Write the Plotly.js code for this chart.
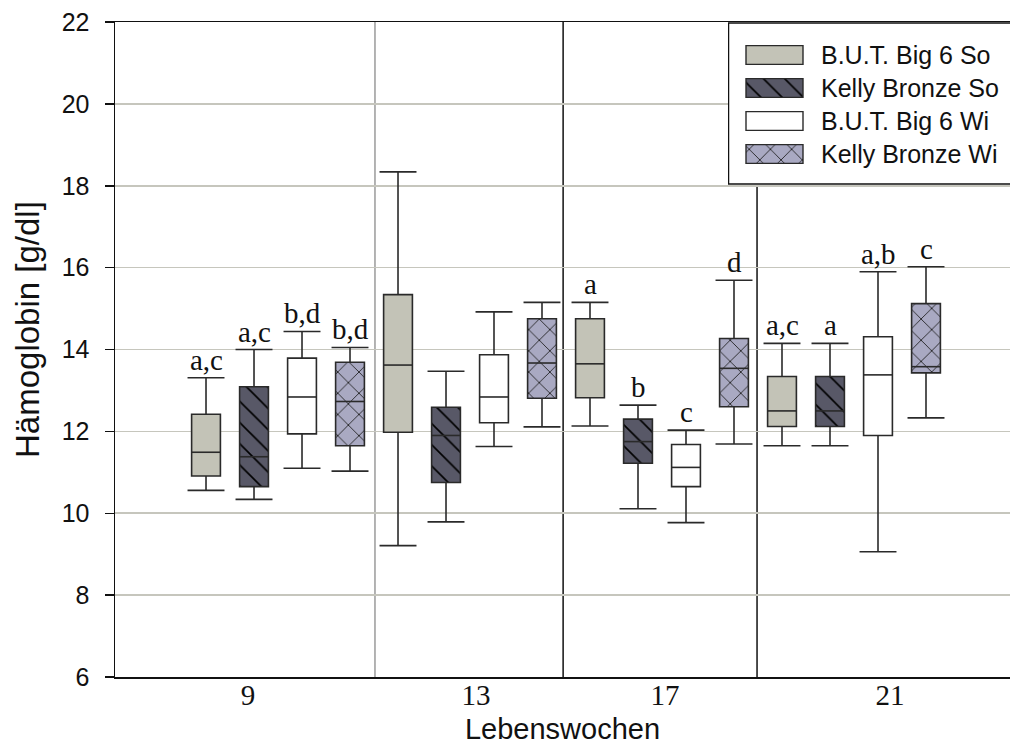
<!DOCTYPE html>
<html>
<head>
<meta charset="utf-8">
<script src="https://cdn.plot.ly/plotly-3.0.1.min.js"></script>
<style>html,body{margin:0;padding:0;background:#fff;}#chart{width:1010px;height:754px;}</style>
</head>
<body>
<div id="chart"></div>
<script>
// ---- data ----
const weeks = ['9', '13', '17', '21'];
const seriesNames = ['B.U.T. Big 6 So', 'Kelly Bronze So', 'B.U.T. Big 6 Wi', 'Kelly Bronze Wi'];

const butSoLower = [10.56, 9.21, 12.13, 11.65];
const butSoQ1    = [10.91, 11.98, 12.82, 12.12];
const butSoMed   = [11.49, 13.62, 13.65, 12.50];
const butSoQ3    = [12.42, 15.34, 14.75, 13.34];
const butSoUpper = [13.31, 18.34, 15.15, 14.15];
const butSoLetters = ['a,c', '', 'a', 'a,c'];

const kbSoLower = [10.34, 9.79, 10.11, 11.65];
const kbSoQ1    = [10.65, 10.75, 11.22, 12.12];
const kbSoMed   = [11.38, 11.90, 11.75, 12.50];
const kbSoQ3    = [13.09, 12.59, 12.30, 13.34];
const kbSoUpper = [14.00, 13.47, 12.64, 14.15];
const kbSoLetters = ['a,c', '', 'b', 'a'];

const butWiLower = [11.10, 11.63, 9.77, 9.06];
const butWiQ1    = [11.94, 12.21, 10.65, 11.90];
const butWiMed   = [12.84, 12.84, 11.12, 13.38];
const butWiQ3    = [13.79, 13.87, 11.68, 14.31];
const butWiUpper = [14.44, 14.92, 12.03, 15.90];
const butWiLetters = ['b,d', '', 'c', 'a,b'];

const kbWiLower = [11.03, 12.11, 11.69, 12.33];
const kbWiQ1    = [11.65, 12.81, 12.60, 13.43];
const kbWiMed   = [12.73, 13.67, 13.54, 13.58];
const kbWiQ3    = [13.69, 14.75, 14.27, 15.12];
const kbWiUpper = [14.05, 15.15, 15.69, 16.02];
const kbWiLetters = ['b,d', '', 'd', 'c'];

const yTickVals = [6, 8, 10, 12, 14, 16, 18, 20, 22];

// ---- styles ----
const styles = [
  {color: '#c3c3b7', shape: '', fg: '#111'},
  {color: '#585867', shape: '\\', fg: '#000'},
  {color: '#ffffff', shape: '', fg: '#111'},
  {color: '#a9a9c2', shape: 'x', fg: '#1a1a1a'}
];
const stats = [
  {lo: butSoLower, q1: butSoQ1, med: butSoMed, q3: butSoQ3, hi: butSoUpper, letters: butSoLetters},
  {lo: kbSoLower, q1: kbSoQ1, med: kbSoMed, q3: kbSoQ3, hi: kbSoUpper, letters: kbSoLetters},
  {lo: butWiLower, q1: butWiQ1, med: butWiMed, q3: butWiQ3, hi: butWiUpper, letters: butWiLetters},
  {lo: kbWiLower, q1: kbWiQ1, med: kbWiMed, q3: kbWiQ3, hi: kbWiUpper, letters: kbWiLetters}
];

const nS = seriesNames.length;
const boxW = 0.6, capHalf = 0.385;
const lineCol = '#2a2a2a';
const traces = [];
const annotations = [];

stats.forEach((st, s) => {
  const pos = weeks.map((_, g) => nS * g + s);
  const sty = styles[s];
  traces.push({
    type: 'bar', x: pos, base: st.q1, y: st.q3.map((v, i) => v - st.q1[i]),
    width: boxW, name: seriesNames[s], showlegend: false, hoverinfo: 'skip',
    marker: {color: sty.color, line: {color: lineCol, width: 1.6},
      pattern: {shape: sty.shape, fgcolor: sty.fg, bgcolor: sty.color, size: 15, solidity: 0.11, fillmode: 'replace'}}
  });
  const wx = [], wy = [], cx = [], cy = [], mx = [], my = [];
  pos.forEach((p, i) => {
    wx.push(p, p, null, p, p, null);
    wy.push(st.q3[i], st.hi[i], null, st.q1[i], st.lo[i], null);
    cx.push(p - capHalf, p + capHalf, null, p - capHalf, p + capHalf, null);
    cy.push(st.hi[i], st.hi[i], null, st.lo[i], st.lo[i], null);
    mx.push(p - boxW / 2, p + boxW / 2, null);
    my.push(st.med[i], st.med[i], null);
    if (st.letters[i]) {
      annotations.push({x: p, y: st.hi[i], xref: 'x', yref: 'y', text: st.letters[i],
        showarrow: false, yanchor: 'bottom', yshift: 0,
        font: {family: 'Liberation Serif, Times New Roman, serif', size: 29, color: '#111'}});
    }
  });
  traces.push({type: 'scatter', mode: 'lines', x: wx, y: wy, showlegend: false, hoverinfo: 'skip',
    line: {color: lineCol, width: 1.6}});
  traces.push({type: 'scatter', mode: 'lines', x: cx, y: cy, showlegend: false, hoverinfo: 'skip',
    line: {color: lineCol, width: 1.6}});
  traces.push({type: 'scatter', mode: 'lines', x: mx, y: my, showlegend: false, hoverinfo: 'skip',
    line: {color: lineCol, width: 1.6}});
});

// legend swatches (own small subplot), one bar per series
seriesNames.forEach((n, i) => {
  const sty = styles[i];
  traces.push({
    type: 'bar', orientation: 'h', xaxis: 'x2', yaxis: 'y2',
    y: [i], x: [57], base: 18, width: 0.57,
    showlegend: false, hoverinfo: 'skip',
    marker: {color: sty.color, line: {color: lineCol, width: 1.4},
      pattern: {shape: sty.shape, fgcolor: sty.fg, bgcolor: sty.color, size: 15, solidity: 0.11, fillmode: 'replace'}}
  });
  annotations.push({xref: 'x2', yref: 'y2', x: 91, y: i, text: n, showarrow: false, xanchor: 'left',
    font: {family: 'Liberation Sans, Arial, sans-serif', size: 25, color: '#111'}});
});

const plotL = 115, plotR = 1010, plotT = 22, plotB = 677;
const pw = plotR - plotL, ph = plotB - plotT;

// y-axis title as annotation for exact placement
annotations.push({xref: 'paper', yref: 'paper', x: (27 - plotL) / pw, y: 1 - (330 - plotT) / ph,
  text: 'Hämoglobin [g/dl]', textangle: -90, showarrow: false, xanchor: 'center', yanchor: 'middle',
  font: {family: 'Liberation Sans, Arial, sans-serif', size: 33, color: '#111'}});

const layout = {
  width: 1010, height: 754,
  margin: {l: plotL, r: 1010 - plotR, t: plotT, b: 754 - plotB},
  paper_bgcolor: '#fff', plot_bgcolor: '#fff',
  barmode: 'overlay', showlegend: false,
  xaxis: {range: [-1.896, 16.75], showgrid: false, zeroline: false,
    showline: true, linecolor: '#111', linewidth: 1.5, mirror: true, ticks: '',
    tickmode: 'array', tickvals: [0.875, 5.625, 9.56, 14.25], ticktext: weeks,
    ticklabelstandoff: -8,
    tickfont: {family: 'Liberation Serif, Times New Roman, serif', size: 29, color: '#111'},
    title: {text: 'Lebenswochen', font: {family: 'Liberation Sans, Arial, sans-serif', size: 29, color: '#111'}, standoff: 8}},
  yaxis: {range: [6, 22], showgrid: true, gridcolor: '#c6c6bd', gridwidth: 1.6, zeroline: false,
    showline: true, linecolor: '#111', linewidth: 1.5, ticks: 'outside', ticklen: 9, tickcolor: '#111', tickwidth: 1.5,
    tickmode: 'array', tickvals: yTickVals, ticklabelstandoff: 10,
    tickfont: {family: 'Liberation Sans, Arial, sans-serif', size: 25, color: '#111'}},
  xaxis2: {domain: [(728 - plotL) / pw, 1], range: [0, 282], visible: false, fixedrange: true},
  yaxis2: {domain: [1 - (185 - plotT) / ph, 1], range: [3.94, -1.0], visible: false, fixedrange: true},
  shapes: [
    {type: 'line', xref: 'x', yref: 'paper', x0: 3.52, x1: 3.52, y0: 0, y1: 1, line: {color: '#9a9a9a', width: 1.5}, layer: 'between'},
    {type: 'line', xref: 'x', yref: 'paper', x0: 7.44, x1: 7.44, y0: 0, y1: 1, line: {color: '#111', width: 1.5}, layer: 'between'},
    {type: 'line', xref: 'x', yref: 'paper', x0: 11.48, x1: 11.48, y0: 0, y1: 1, line: {color: '#111', width: 1.5}, layer: 'between'},
    {type: 'rect', xref: 'x2', yref: 'y2', x0: 0.5, x1: 300, y0: -0.97, y1: 3.91, fillcolor: '#fff', line: {color: '#111', width: 1.5}, layer: 'between'}
  ],
  annotations: annotations
};

Plotly.newPlot('chart', traces, layout, {staticPlot: true, displayModeBar: false});
</script>
</body>
</html>
